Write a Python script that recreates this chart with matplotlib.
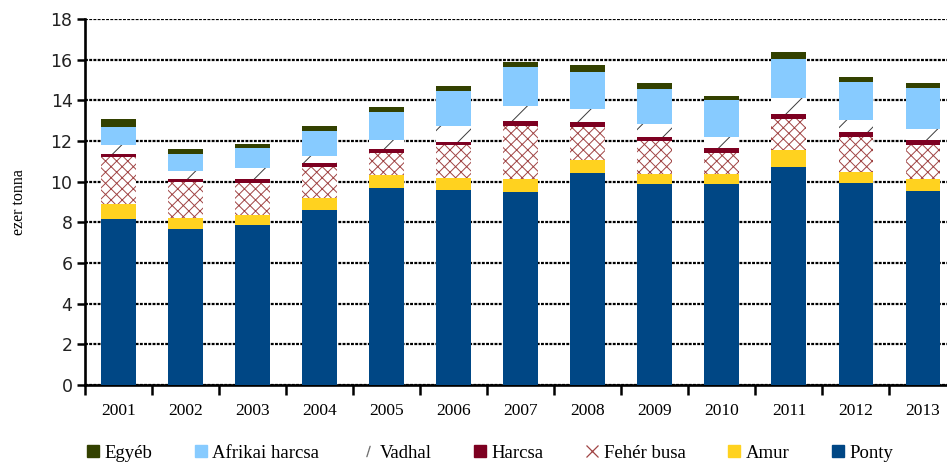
import numpy as np
import matplotlib.pyplot as plt
from matplotlib.lines import Line2D

# Data (ezer tonna)
years = ['2001', '2002', '2003', '2004', '2005', '2006', '2007',
         '2008', '2009', '2010', '2011', '2012', '2013']
ponty = [8.17, 7.69, 7.87, 8.61, 9.69, 9.59, 9.49, 10.43, 9.87, 9.87, 10.74, 9.92, 9.54]
amur = [0.73, 0.52, 0.51, 0.60, 0.62, 0.61, 0.64, 0.64, 0.52, 0.51, 0.80, 0.56, 0.61]
feher_busa = [2.33, 1.79, 1.56, 1.53, 1.12, 1.59, 2.62, 1.63, 1.61, 1.03, 1.54, 1.73, 1.65]
harcsa = [0.15, 0.14, 0.21, 0.16, 0.18, 0.18, 0.24, 0.24, 0.20, 0.23, 0.23, 0.25, 0.25]
vadhal = [0.41, 0.37, 0.51, 0.36, 0.44, 0.77, 0.73, 0.64, 0.65, 0.57, 0.82, 0.57, 0.53]
afrikai_harcsa = [0.89, 0.87, 0.98, 1.25, 1.39, 1.74, 1.90, 1.83, 1.73, 1.81, 1.89, 1.87, 2.01]
egyeb = [0.41, 0.23, 0.23, 0.24, 0.25, 0.23, 0.28, 0.31, 0.26, 0.21, 0.34, 0.26, 0.28]

c_ponty = '#004785'
c_amur = '#FFD21F'
c_busa = '#A04444'
c_harcsa = '#7D0021'
c_vadhal = '#3A3A3A'
c_afrikai = '#87CBFF'
c_egyeb = '#334100'

plt.rcParams['hatch.linewidth'] = 0.7

fig = plt.figure(figsize=(9.47, 4.63), dpi=100)
ax = fig.add_axes([85 / 947, 1 - 385 / 463, 871.5 / 947, 366 / 463])

x = np.arange(len(years))
w = 0.52
bottom = np.zeros(len(years))

# (values, face, edge/hatch color, hatch)
segments = [
    (ponty, c_ponty, c_ponty, None),
    (amur, c_amur, c_amur, None),
    (feher_busa, 'white', c_busa, 'xxx'),
    (harcsa, c_harcsa, c_harcsa, None),
    (vadhal, 'white', c_vadhal, '/'),
    (afrikai_harcsa, c_afrikai, c_afrikai, None),
    (egyeb, c_egyeb, c_egyeb, None),
]
for vals, face, edge, hatch in segments:
    vals = np.array(vals)
    ax.bar(x, vals, w, bottom=bottom, color=face, edgecolor=edge,
           hatch=hatch, linewidth=0, zorder=3)
    bottom += vals

ax.set_xlim(-0.5, 12.5)
ax.set_ylim(0, 18)
ax.set_yticks(np.arange(0, 19, 2))
ax.set_xticks(x)
ax.set_xticklabels(years, family='Liberation Serif', fontsize=12.5)
ax.set_xticks(np.arange(-0.5, 13, 1), minor=True)
ax.tick_params(axis='x', which='major', length=0, pad=13)
ax.tick_params(axis='x', which='minor', length=7, width=1.8, direction='out')
ax.tick_params(axis='y', length=6, width=1.8, direction='out', pad=3,
               labelsize=12.5, labelcolor='#222222')

for s in ['top', 'right']:
    ax.spines[s].set_visible(False)
for s in ['left', 'bottom']:
    ax.spines[s].set_linewidth(1.9)

ax.set_axisbelow(True)
ax.yaxis.grid(True, color='black', linewidth=1.6, linestyle=(0, (1.3, 0.6)))

ax.set_ylabel('ezer tonna', family='Liberation Serif', fontsize=11.5, labelpad=17)

handles = [
    Line2D([], [], ls='none', marker='s', ms=9, color=c_egyeb),
    Line2D([], [], ls='none', marker='s', ms=9, color=c_afrikai),
    Line2D([], [], ls='none', marker='$/$', ms=8, color='#666666', mew=0.1),
    Line2D([], [], ls='none', marker='s', ms=9, color=c_harcsa),
    Line2D([], [], ls='none', marker='x', ms=9, color=c_busa, mew=0.9),
    Line2D([], [], ls='none', marker='s', ms=9, color=c_amur),
    Line2D([], [], ls='none', marker='s', ms=9, color=c_ponty),
]
labels = ['Egyéb', 'Afrikai harcsa', 'Vadhal', 'Harcsa', 'Fehér busa', 'Amur', 'Ponty']
fig.legend(handles, labels, loc='center', bbox_to_anchor=(489.5 / 947, 1 - 453 / 463),
           ncol=7, frameon=False, prop={'family': 'Liberation Serif', 'size': 13.5},
           handlelength=0.8, handletextpad=0.2, columnspacing=2.2,
           borderpad=0, borderaxespad=0)

fig.savefig('out.png', dpi=100)
